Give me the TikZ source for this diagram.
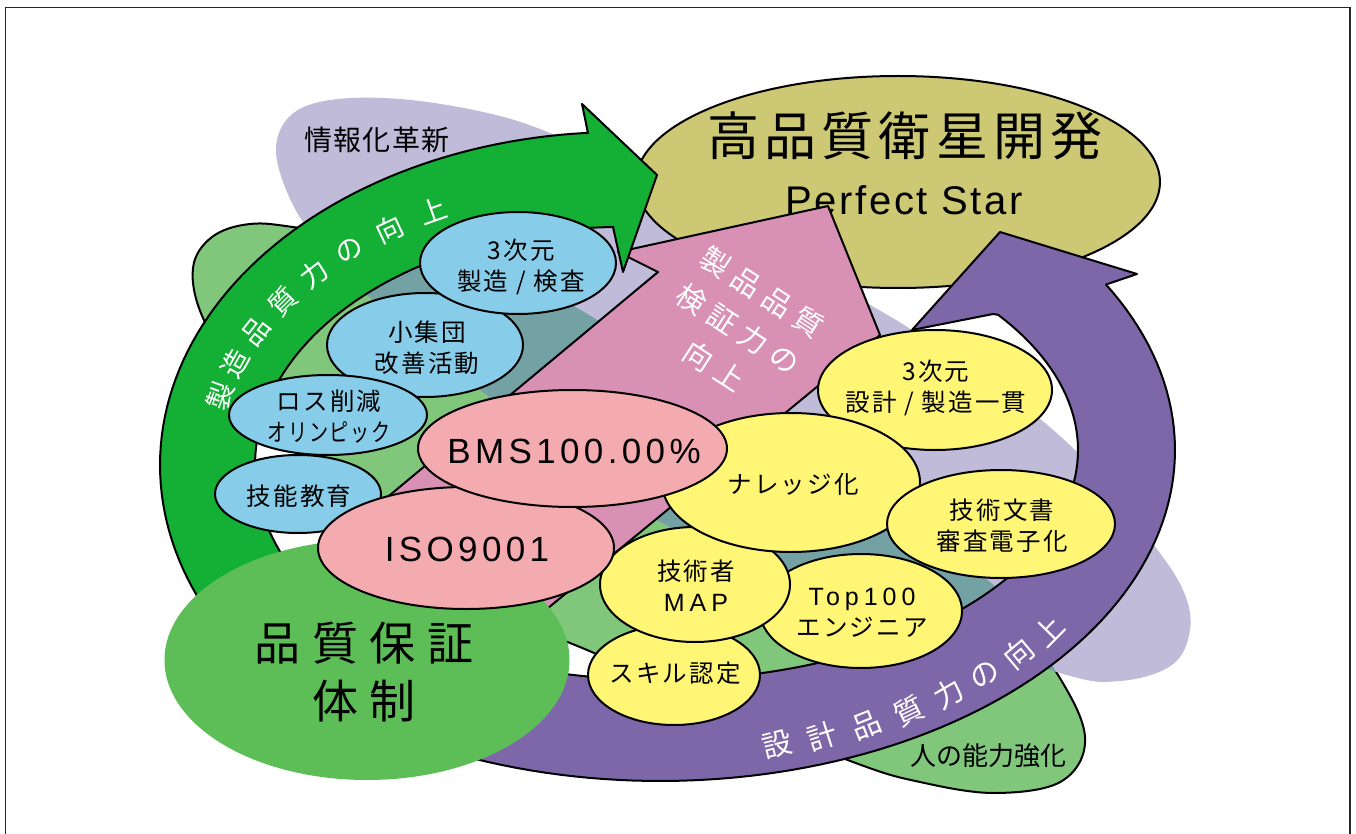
\documentclass[tikz,border=0pt]{standalone}
\usepackage{fontspec}
\usepackage{graphicx}
\setmainfont{Liberation Sans}
\newfontfamily\jp{Noto Sans CJK JP}
\newfontfamily\lat{Liberation Sans}
\usetikzlibrary{shapes.geometric}
\definecolor{lav}{HTML}{BFBBD9}
\definecolor{lgreen}{HTML}{80C77C}
\definecolor{tealx}{HTML}{74A1A3}
\definecolor{arrgreen}{HTML}{14B035}
\definecolor{arrpurple}{HTML}{7E67A8}
\definecolor{arrpink}{HTML}{D890B4}
\definecolor{olivex}{HTML}{CCC873}
\definecolor{qgreen}{HTML}{5DBD56}
\definecolor{eblue}{HTML}{87CCE8}
\definecolor{epink}{HTML}{F4ABB0}
\definecolor{eyellow}{HTML}{FFF676}
\newcommand{\latsp}[1]{{\lat\fontsize{25}{31}\selectfont\addfontfeature{LetterSpace=20}#1}}
\begin{document}
\begin{tikzpicture}[x=1pt,y=-1pt,
  outl/.style={draw=black,line width=2pt,line join=round},
  ell/.style={ellipse,draw=black,line width=2pt,inner sep=0pt,outer sep=0pt},
  etxt/.style={font=\jp\fontsize{24.5}{31}\selectfont\addfontfeature{LetterSpace=9},align=center,inner sep=0pt},
  mtxt/.style={font=\lat\fontsize{35}{40}\selectfont\addfontfeature{LetterSpace=12.5},inner sep=0pt},
  gtxt/.style={font=\jp\fontsize{27.5}{30}\selectfont,text=white,inner sep=0pt},
  dtxt/.style={font=\jp\fontsize{29.5}{32}\selectfont,text=white,inner sep=0pt},
  ptxt/.style={font=\jp\fontsize{29}{44}\selectfont\addfontfeature{LetterSpace=28},text=white,inner sep=0pt,rotate=-33,align=center},
  btxt/.style={inner sep=0pt,text=black}]
\useasboundingbox (0,0) rectangle (1356,834);
% frame
\draw[line width=1.2pt,black!85] (5.5,7.5) rectangle (1350,870);
% green blob
\path[fill=lgreen,outl] plot[smooth cycle,tension=0.6] coordinates {(193,268) (212,237) (250,224) (300,228) (420,247) (563,300) (800,455) (990,582) (1055,670) (1085,737) (1062,781) (995,793) (920,782) (853,762) (700,700) (575,645) (430,590) (340,540) (305,460) (245,385) (203,318)};
% lavender blob
\path[fill=lav] plot[smooth cycle,tension=0.6] coordinates {(276,152) (290,116) (330,100) (400,99) (483,112) (550,133) (650,180) (760,240) (867,303) (912,330) (1000,388) (1080,455) (1150,540) (1183,590) (1190,630) (1172,665) (1120,681) (1060,673) (900,615) (760,562) (660,522) (560,455) (480,390) (420,343) (370,298) (325,250) (293,205)};
% overlap
\begin{scope}
\clip plot[smooth cycle,tension=0.6] coordinates {(276,152) (290,116) (330,100) (400,99) (483,112) (550,133) (650,180) (760,240) (867,303) (912,330) (1000,388) (1080,455) (1150,540) (1183,590) (1190,630) (1172,665) (1120,681) (1060,673) (900,615) (760,562) (660,522) (560,455) (480,390) (420,343) (370,298) (325,250) (293,205)};
\fill[tealx] plot[smooth cycle,tension=0.6] coordinates {(193,268) (212,237) (250,224) (300,228) (420,247) (563,300) (800,455) (990,582) (1055,670) (1085,737) (1062,781) (995,793) (920,782) (853,762) (700,700) (575,645) (430,590) (340,540) (305,460) (245,385) (203,318)};
\end{scope}
\node[btxt,font=\jp\fontsize{28}{30}\selectfont\addfontfeature{LetterSpace=5}] (info) at (377,140) {情報化革新};
\node[btxt,font=\jp\fontsize{26}{30}\selectfont] (human) at (988,756) {人の能力強化};
% goal ellipse
\node[ell,fill=olivex,minimum width=524,minimum height=212] (goal) at (898,182) {};
\node[btxt,font=\jp\fontsize{52}{60}\selectfont\addfontfeature{LetterSpace=10}] (goalt) at (905,136) {高品質衛星開発};
\node[btxt,font=\lat\fontsize{40}{48}\selectfont\addfontfeature{LetterSpace=6.6},anchor=base] (goals) at (904,215) {Perfect Star};
% pink arrow
\path[fill=arrpink,outl] (618,252) -- (828,206) -- (880,335) -- (480,664) -- (366,515) -- (658,272) -- cycle;
\node[ptxt] (pt) at (738,329) {製品品質\\検証力の\hspace*{20pt}\\向上};
% green arrow
\path[fill=arrgreen,outl] plot[domain=152:266,samples=70] ({620+460*cos(\x)},{465+333*sin(\x)}) -- (582,104) -- (657,175) -- (623,272) -- (613,227) -- plot[domain=0:117,samples=70] ({620+365*cos(269-\x)},{465+238*sin(269-\x)}) -- cycle;
\foreach \ch [count=\i] in {製,造,品,質,力,の,向,上} {
  \pgfmathsetmacro\myT{194+7*(\i-1)}
  \pgfmathsetmacro\myX{620+412*cos(\myT)}
  \pgfmathsetmacro\myY{465+285*sin(\myT)}
  \pgfmathsetmacro\myR{atan2(-285*cos(\myT),-412*sin(\myT))}
  \node[gtxt,rotate=\myR] (g\i) at (\myX,\myY) {\ch};
}
% purple arrow
\path[fill=arrpurple,outl] plot[domain=0:146,samples=90] ({660+515*cos(116-\x)},{450+331*sin(116-\x)}) -- (1137,274) -- (1000,232) -- (912,330) -- (993,314) -- plot[domain=0:152,samples=90] ({660+418*cos(-36+\x)},{450+230*sin(-36+\x)}) -- cycle;
\foreach \ch [count=\i] in {設,計,品,質,力,の,向,上} {
  \pgfmathsetmacro\myT{76-5.66*(\i-1)}
  \pgfmathsetmacro\myX{660+483*cos(\myT)}
  \pgfmathsetmacro\myY{450+304*sin(\myT)}
  \pgfmathsetmacro\myR{atan2(304*cos(\myT),483*sin(\myT))+5}
  \node[dtxt,rotate=\myR] (d\i) at (\myX,\myY) {\ch};
}
% quality assurance ellipse
\node[ellipse,fill=qgreen,minimum width=405,minimum height=240,inner sep=0pt] (qa) at (367,660) {};
\node[btxt,font=\jp\fontsize{46}{58}\selectfont\addfontfeature{LetterSpace=25}] (qa1) at (364,643) {品質保証};
\node[btxt,font=\jp\fontsize{46}{58}\selectfont\addfontfeature{LetterSpace=25}] (qa2) at (364,701) {体制};
% blue ellipses
\node[ell,fill=eblue,minimum width=166,minimum height=78] (e1) at (298,494) {};
\node[etxt] (e1t) at (299,496) {技能教育};
\node[ell,fill=eblue,minimum width=196,minimum height=104] (e3) at (425,345) {};
\node[etxt] (e3t) at (427,348) {小集団\\改善活動};
\node[ell,fill=eblue,minimum width=198,minimum height=80] (e2) at (328,415) {};
\node[etxt] (e2t) at (329,417) {ロス削減\\\scalebox{0.78}[1]{オリンピック}};
\node[ell,fill=eblue,minimum width=196,minimum height=102] (e4) at (518,263) {};
\node[etxt] (e4t) at (521,267) {3次元\\製造 / 検査};
% yellow ellipses
\node[ell,fill=eyellow,minimum width=234,minimum height=120] (e7) at (935,390) {};
\node[etxt] (e7t) at (936,388) {3次元\\設計 / 製造一貫};
\node[ell,fill=eyellow,minimum width=202,minimum height=114] (e11) at (861,611) {};
\node[etxt] (e11t) at (862,613) {\latsp{Top100}\\エンジニア};
\node[ell,fill=eyellow,minimum width=172,minimum height=100] (e12) at (674,675) {};
\node[etxt] (e12t) at (675,673) {スキル認定};
\node[ell,fill=eyellow,minimum width=190,minimum height=115] (e10) at (695,584.5) {};
\node[etxt] (e10t) at (696,586) {技術者\\\latsp{MAP}};
\node[ell,fill=eyellow,minimum width=258,minimum height=139] (e8) at (791,482.5) {};
\node[etxt] (e8t) at (793,484) {ナレッジ化};
\node[ell,fill=eyellow,minimum width=228,minimum height=108] (e9) at (1001,524) {};
\node[etxt] (e9t) at (1002,526) {技術文書\\審査電子化};
% pink ellipses
\node[ell,fill=epink,minimum width=296,minimum height=122] (e5) at (466,548) {};
\node[mtxt] (e5t) at (467,549) {ISO9001};
\node[ell,fill=epink,minimum width=309,minimum height=117] (e6) at (572.5,448.5) {};
\node[mtxt] (e6t) at (574,451) {BMS100.00\%};
\end{tikzpicture}
\end{document}
